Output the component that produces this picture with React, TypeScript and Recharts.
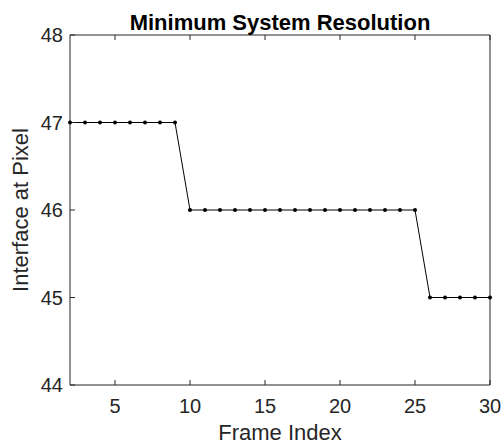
import React from "react";
import { LineChart, Line, XAxis, YAxis } from "recharts";

const frames = [
  2, 3, 4, 5, 6, 7, 8, 9, 10, 11, 12, 13, 14, 15, 16, 17, 18, 19, 20, 21, 22,
  23, 24, 25, 26, 27, 28, 29, 30,
];
const pixels = [
  47, 47, 47, 47, 47, 47, 47, 47, 46, 46, 46, 46, 46, 46, 46, 46, 46, 46, 46,
  46, 46, 46, 46, 46, 45, 45, 45, 45, 45,
];
const xTicks = [5, 10, 15, 20, 25, 30];
const yTicks = [44, 45, 46, 47, 48];

const data = frames.map((frame, i) => ({ frame, pixel: pixels[i] }));

const axisColor = "#262626";
const tickStyle = { fill: axisColor, fontSize: 20 };
const noLabel = () => <g />;

export default function App() {
  return (
    <div
      style={{
        position: "absolute",
        left: 0,
        top: 0,
        fontFamily: "'Liberation Sans', Arial, sans-serif",
      }}
    >
      <LineChart
        width={502}
        height={445}
        data={data}
        margin={{ top: 34, right: 11, left: 0, bottom: 0 }}
      >
        <XAxis
          dataKey="frame"
          type="number"
          domain={[2, 30]}
          ticks={xTicks}
          height={60}
          stroke={axisColor}
          tick={tickStyle}
          tickSize={-5}
          tickMargin={19}
          label={{
            value: "Frame Index",
            position: "insideBottom",
            offset: 5,
            fill: axisColor,
            fontSize: 22,
          }}
        />
        <XAxis
          xAxisId="top"
          orientation="top"
          dataKey="frame"
          type="number"
          domain={[2, 30]}
          ticks={xTicks}
          height={1}
          stroke={axisColor}
          tick={noLabel}
          tickSize={-5}
          label={{
            value: "Minimum System Resolution",
            position: "top",
            offset: 4,
            fill: "#000",
            fontSize: 22,
            fontWeight: "bold",
          }}
        />
        <YAxis
          type="number"
          domain={[44, 48]}
          ticks={yTicks}
          width={70}
          stroke={axisColor}
          tick={tickStyle}
          tickSize={-5}
          tickMargin={12}
          label={{
            value: "Interface at Pixel",
            angle: -90,
            position: "insideLeft",
            offset: 20,
            fill: axisColor,
            fontSize: 22,
            style: { textAnchor: "middle" },
          }}
        />
        <YAxis
          yAxisId="right"
          orientation="right"
          type="number"
          domain={[44, 48]}
          ticks={yTicks}
          width={1}
          stroke={axisColor}
          tick={noLabel}
          tickSize={-5}
        />
        <Line
          dataKey="pixel"
          type="linear"
          stroke="#000"
          strokeWidth={1}
          dot={{ r: 2, fill: "#000", stroke: "#000", strokeWidth: 0 }}
          isAnimationActive={false}
        />
      </LineChart>
    </div>
  );
}
